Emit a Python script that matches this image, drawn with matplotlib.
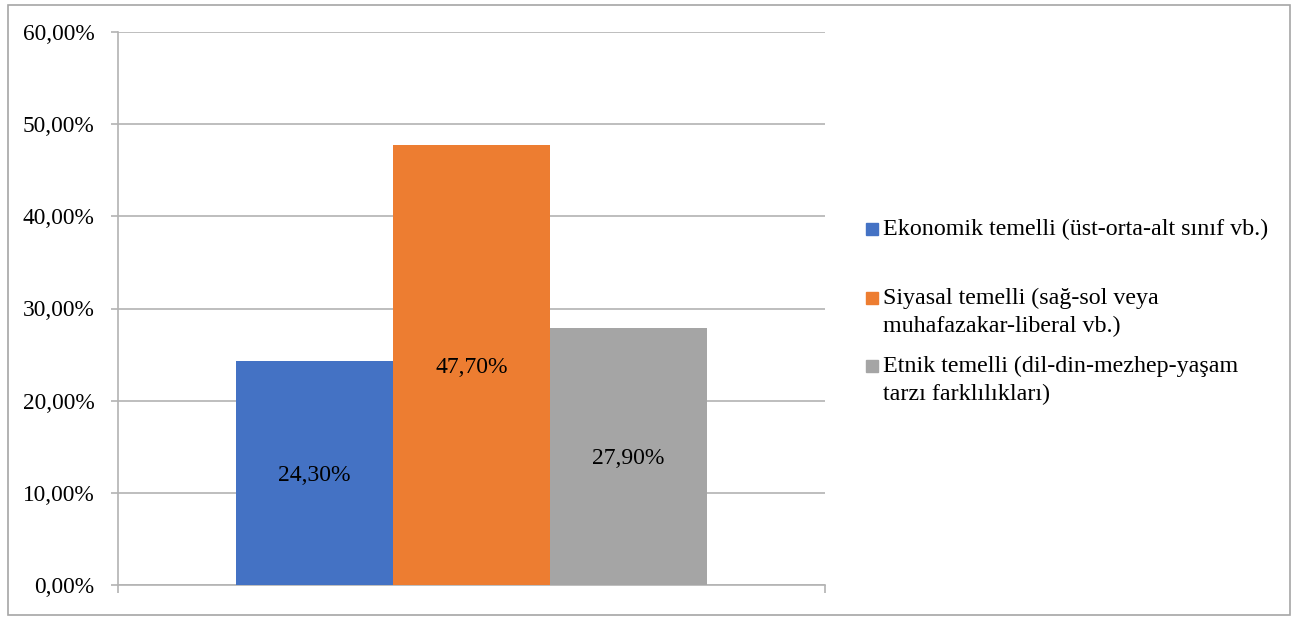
import matplotlib.pyplot as plt
from matplotlib.patches import Rectangle

# data
series_labels = ['Ekonomik temelli (üst-orta-alt sınıf vb.)',
                 'Siyasal temelli (sağ-sol veya\nmuhafazakar-liberal vb.)',
                 'Etnik temelli (dil-din-mezhep-yaşam\ntarzı farklılıkları)']
values = [24.3, 47.7, 27.9]
colors = ['#4472C4', '#ED7D31', '#A5A5A5']
yticks = [0, 10, 20, 30, 40, 50, 60]

plt.rcParams['font.family'] = ['Liberation Serif', 'DejaVu Serif']

W, H = 1298, 619
fig = plt.figure(figsize=(W / 100, H / 100), dpi=100)

# outer chart border
fig.patches.append(Rectangle((8 / W, 1 - 615 / H), 1282 / W, 610 / H,
                             transform=fig.transFigure, fill=False,
                             edgecolor='#a6a6a6', lw=1.2))

ax = fig.add_axes([118 / W, 1 - 585 / H, 707 / W, 553 / H])

# three bars in one category, 50% gap width
width = 2 / 9
for i, (v, c) in enumerate(zip(values, colors)):
    x = 1 / 6 + width * (i + 0.5)
    ax.bar(x, v, width=width, color=c, zorder=3)
    ax.text(x, v / 2, f'{v:.2f}%'.replace('.', ','), ha='center',
            va='center_baseline', fontsize=17, zorder=4)

ax.set_xlim(0, 1)
ax.set_ylim(0, 60)
ax.set_yticks(yticks)
ax.set_yticklabels([f'{t:.2f}%'.replace('.', ',') for t in yticks], fontsize=16.8)
ax.set_xticks([0, 1])
ax.set_xticklabels([])
ax.grid(axis='y', color='#b3b3b3', lw=1.2, zorder=0)
ax.tick_params(axis='y', length=5, width=1.2, color='#b3b3b3', pad=12)
ax.tick_params(axis='x', length=6, width=1.2, color='#b3b3b3')
for s in ['top', 'right']:
    ax.spines[s].set_visible(False)
for s in ['left', 'bottom']:
    ax.spines[s].set_color('#b3b3b3')
    ax.spines[s].set_linewidth(1.2)

# legend drawn by hand (Excel-like uneven spacing)
baselines = [235, 304, 372]
for lab, c, b in zip(series_labels, colors, baselines):
    fig.patches.append(Rectangle((866 / W, 1 - b / H), 12 / W, 12 / H,
                                 transform=fig.transFigure, color=c))
    for k, line in enumerate(lab.split('\n')):
        fig.text(883 / W, 1 - (b + 28 * k) / H, line, fontsize=17.3,
                 va='baseline', ha='left')

fig.savefig('out.png', dpi=100)
